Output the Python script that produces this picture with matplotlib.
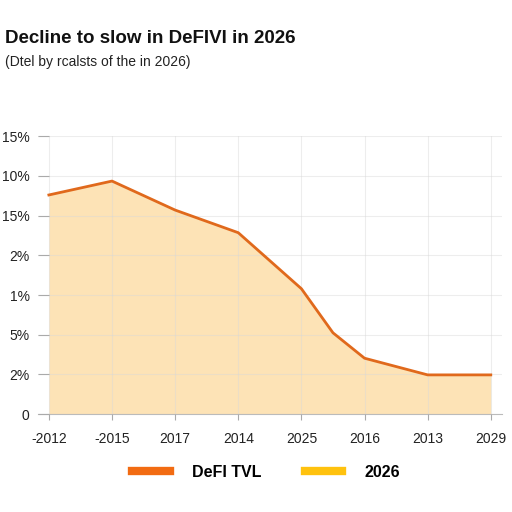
import matplotlib
matplotlib.use("Agg")
import matplotlib.pyplot as plt
from matplotlib.lines import Line2D

plt.rcParams["font.family"] = ["Liberation Sans", "DejaVu Sans"]

title = "Decline to slow in DeFIVI in 2026"
subtitle = "(Dtel by rcalsts of the in 2026)"
x_labels = ["-2012", "-2015", "2017", "2014", "2025", "2016", "2013", "2029"]
y_labels = ["0", "2%", "5%", "1%", "2%", "15%", "10%", "15%"]
x_pos = [0, 1, 2, 3, 4, 4.5, 5, 6, 7]
tvl = [5.52, 5.87, 5.14, 4.57, 3.16, 2.05, 1.41, 0.99, 0.99]
legend_names = ["DeFI TVL", "2026"]

line_col = "#E0691C"
fill_col = "#FDE3B6"

fig = plt.figure(figsize=(5.12, 5.12), dpi=100)
ax = fig.add_axes([0.074, 0.191, 0.906, 0.543])
ax.fill_between(x_pos, tvl, 0, color=fill_col, lw=0, zorder=1)
ax.plot(x_pos, tvl, color=line_col, lw=2, zorder=4)
ax.set_xlim(-0.174, 7.174)
ax.set_ylim(0, 7)
ax.set_xticks(range(len(x_labels)))
ax.set_xticklabels(x_labels, fontsize=10, color="#222222")
ax.set_yticks(range(len(y_labels)))
ax.set_yticklabels(y_labels, fontsize=10, color="#222222")
ax.set_axisbelow(False)
ax.grid(True, color="#D8D8D8", alpha=0.45, lw=0.8)
for s in ["top", "right", "left"]:
    ax.spines[s].set_visible(False)
ax.spines["bottom"].set_color("#BBBBBB")
ax.tick_params(axis="both", colors="#AAAAAA", labelcolor="#222222", width=0.8)
ax.tick_params(axis="x", length=4, pad=9)
ax.tick_params(axis="y", direction="in", length=8, pad=6)

fig.text(0.01, 0.925, title, fontsize=13.5, fontweight="bold", color="#111111", va="center")
fig.text(0.01, 0.878, subtitle, fontsize=10, color="#222222", va="center")

handles = [Line2D([0], [0], color="#F26B12", lw=6), Line2D([0], [0], color="#FFC20E", lw=6)]
leg = fig.legend(handles, legend_names, loc="center", bbox_to_anchor=(0.52, 0.078), ncol=2,
                 frameon=False, handlelength=2.35, columnspacing=2.7, handletextpad=1.4,
                 prop={"weight": "bold", "size": 11.5})
fig.savefig("out.png", dpi=100)
